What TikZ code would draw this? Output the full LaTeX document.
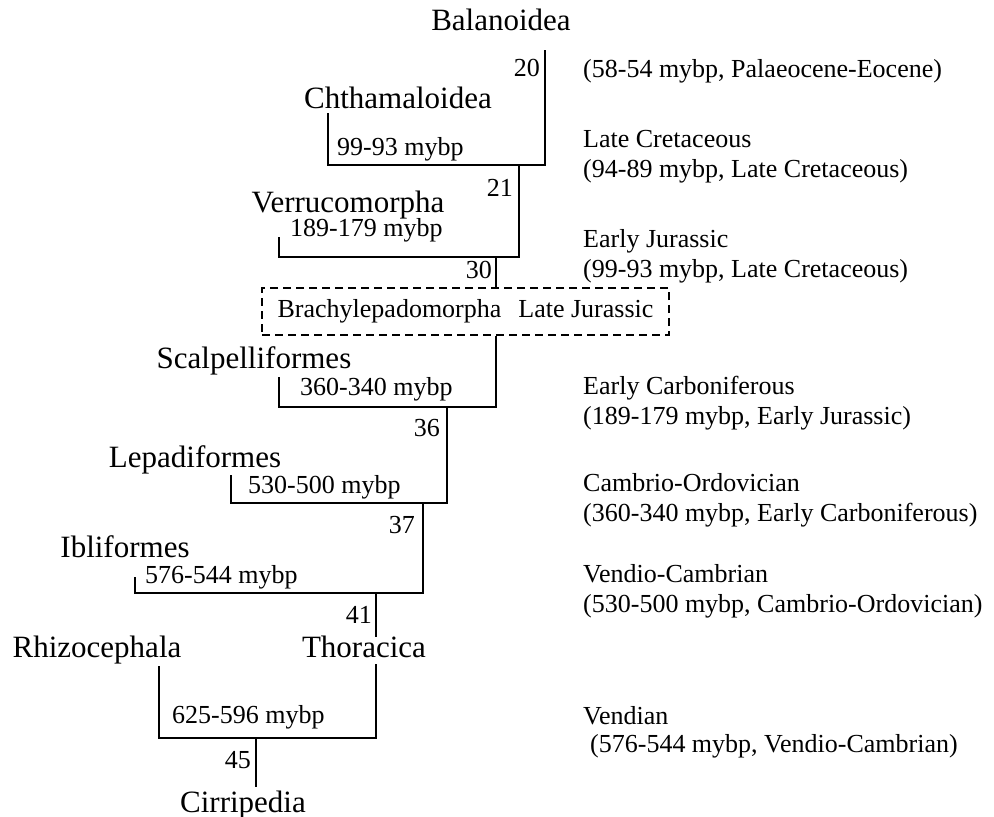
\documentclass[tikz,border=0pt]{standalone}
\usepackage{fontspec}
\setmainfont{Liberation Serif}
\usetikzlibrary{positioning}

\begin{document}
\begin{tikzpicture}[x=1pt,y=-1pt]

      \tikzstyle{taxon}=[font=\fontsize{31}{34}\selectfont,
        inner sep=0pt,text height=20.5pt,text depth=0pt]
      \tikzstyle{age}=[font=\fontsize{26}{30}\selectfont,
        inner sep=0pt,text height=17.5pt,text depth=0pt,anchor=west]
      \tikzstyle{num}=[age,anchor=east]
      \tikzstyle{era}=[font=\fontsize{26}{30}\selectfont,
        inner sep=0pt,align=left,anchor=base west]
      \tikzstyle{branch}=[line width=2pt]
      \tikzstyle{clade}=[draw,line width=1.5pt,dash pattern=on 8pt off 5pt,
        minimum width=407pt,minimum height=47pt,inner sep=0pt,
        font=\fontsize{26}{30}\selectfont]

      \useasboundingbox (0,0) rectangle (994,817);

      % taxa
      \node(Balanoidea)[taxon] at (501,20){Balanoidea};
      \node(Chthamaloidea)[taxon] at (398,98){Chthamaloidea};
      \node(Verrucomorpha)[taxon] at (348,202){Verrucomorpha};
      \node(Brachy)[clade] at (465.5,311.5)
        {Brachylepadomorpha\hspace{17pt}Late Jurassic};
      \node(Scalpelliformes)[taxon] at (254,358){Scalpelliformes};
      \node(Lepadiformes)[taxon] at (195,457){Lepadiformes};
      \node(Ibliformes)[taxon] at (125,547){Ibliformes};
      \node(Rhizocephala)[taxon] at (97,647){Rhizocephala};
      \node(Thoracica)[taxon] at (364,647){Thoracica};
      \node(Cirripedia)[taxon] at (243,802){Cirripedia};

      % node numbers and ages
      \node(N20)[num] at (540,68){20};
      \node(N21)[num] at (513,188){21};
      \node(N30)[num] at (492,270){30};
      \node(N36)[num] at (440,428){36};
      \node(N37)[num] at (415,525){37};
      \node(N41)[num] at (372,615){41};
      \node(N45)[num] at (251,760){45};

      \node(Age1)[age] at (337,147){99-93 mybp};
      \node(Age2)[age] at (290,228){189-179 mybp};
      \node(Age3)[age] at (300,387){360-340 mybp};
      \node(Age4)[age] at (248,485){530-500 mybp};
      \node(Age5)[age] at (145,575){576-544 mybp};
      \node(Age6)[age] at (172,715){625-596 mybp};

      % branch points
      \coordinate(BalTop) at (545,50);
      \coordinate(J20) at (545,165);
      \coordinate(ChtTop) at (328,113);
      \coordinate(ChtBot) at (328,165);
      \coordinate(J21) at (519,165);
      \coordinate(J21b) at (519,257);
      \coordinate(VerTop) at (279,237);
      \coordinate(VerBot) at (279,257);
      \coordinate(J30) at (496,257);
      \coordinate(J30b) at (496,407);
      \coordinate(ScaTop) at (279,377);
      \coordinate(ScaBot) at (279,407);
      \coordinate(J36) at (447,407);
      \coordinate(J36b) at (447,503);
      \coordinate(LepTop) at (231,475);
      \coordinate(LepBot) at (231,503);
      \coordinate(J37) at (423,503);
      \coordinate(J37b) at (423,593);
      \coordinate(IblTop) at (135,577);
      \coordinate(IblBot) at (135,593);
      \coordinate(J41) at (376,593);
      \coordinate(J41b) at (376,637);
      \coordinate(ThoTop) at (376,664);
      \coordinate(ThoBot) at (376,738);
      \coordinate(RhiTop) at (159,666);
      \coordinate(RhiBot) at (159,738);
      \coordinate(J45) at (256,738);
      \coordinate(J45b) at (256,787);

      \draw [branch] (BalTop)--(J20)--(ChtBot)--(ChtTop);
      \draw [branch] (J21)--(J21b)--(VerBot)--(VerTop);
      \draw [branch] (J30)--(J30 |- Brachy.north);
      \draw [branch] (J30 |- Brachy.south)--(J30b)--(ScaBot)--(ScaTop);
      \draw [branch] (J36)--(J36b)--(LepBot)--(LepTop);
      \draw [branch] (J37)--(J37b)--(IblBot)--(IblTop);
      \draw [branch] (J41)--(J41b);
      \draw [branch] (ThoTop)--(ThoBot)--(RhiBot)--(RhiTop);
      \draw [branch] (J45)--(J45b);

      % eras (base anchor sits on the last line)
      \node(Era1)[era] at (583,77){(58-54 mybp, Palaeocene-Eocene)};
      \node(Era2)[era] at (583,177){Late Cretaceous\\(94-89 mybp, Late Cretaceous)};
      \node(Era3)[era] at (583,277){Early Jurassic\\(99-93 mybp, Late Cretaceous)};
      \node(Era4)[era] at (583,424){Early Carboniferous\\(189-179 mybp, Early Jurassic)};
      \node(Era5)[era] at (583,521){Cambrio-Ordovician\\(360-340 mybp, Early Carboniferous)};
      \node(Era6)[era] at (583,612){Vendio-Cambrian\\(530-500 mybp, Cambrio-Ordovician)};
      \node(Era7)[era] at (583,752){Vendian\\[-2pt]\hspace*{7pt}(576-544 mybp, Vendio-Cambrian)};

    \end{tikzpicture}
\end{document}
